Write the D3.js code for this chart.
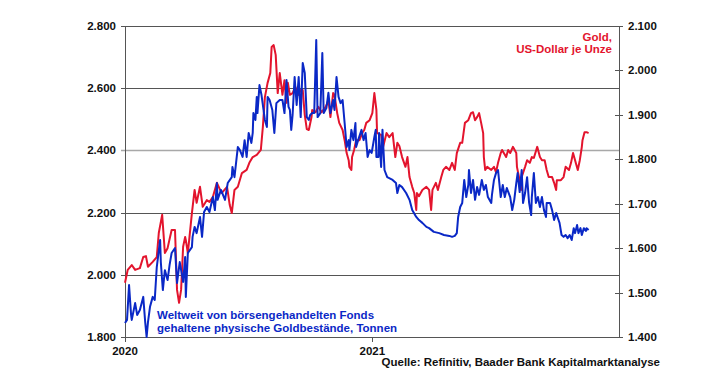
<!DOCTYPE html>
<html>
<head>
<meta charset="utf-8">
<script src="https://cdn.jsdelivr.net/npm/d3@7"></script>
<style>
  body { margin: 0; background: #fff; }
  svg text { font-family: "Liberation Sans", Arial, sans-serif; font-weight: bold; }
</style>
</head>
<body>
<div class="chart"></div>
<script>
// Goldpreis, US-Dollar je Unze (rechte Achse)
var goldDates = ["2020-01-01","2020-01-05","2020-01-11","2020-01-16","2020-01-23","2020-01-28","2020-02-01","2020-02-04","2020-02-11","2020-02-17","2020-02-20","2020-02-25","2020-02-29","2020-03-04","2020-03-10","2020-03-15","2020-03-18","2020-03-21","2020-03-24","2020-03-27","2020-03-30","2020-03-31","2020-04-03","2020-04-09","2020-04-13","2020-04-16","2020-04-21","2020-04-25","2020-05-01","2020-05-05","2020-05-10","2020-05-16","2020-05-23","2020-05-31","2020-06-04","2020-06-07","2020-06-11","2020-06-16","2020-06-22","2020-06-29","2020-07-03","2020-07-08","2020-07-14","2020-07-20","2020-07-23","2020-07-26","2020-07-30","2020-08-03","2020-08-05","2020-08-08","2020-08-11","2020-08-14","2020-08-17","2020-08-21","2020-08-24","2020-08-27","2020-08-29","2020-09-01","2020-09-05","2020-09-09","2020-09-14","2020-09-17","2020-09-20","2020-09-23","2020-09-26","2020-09-29","2020-10-03","2020-10-04","2020-10-09","2020-10-13","2020-10-18","2020-10-24","2020-10-28","2020-10-31","2020-11-04","2020-11-06","2020-11-10","2020-11-13","2020-11-18","2020-11-21","2020-11-24","2020-11-27","2020-11-28","2020-12-01","2020-12-02","2020-12-05","2020-12-08","2020-12-13","2020-12-17","2020-12-20","2020-12-23","2020-12-28",
  "2021-01-01","2021-01-04","2021-01-07","2021-01-08","2021-01-14","2021-01-17","2021-01-22","2021-01-26","2021-01-31","2021-02-04","2021-02-07","2021-02-10","2021-02-14","2021-02-19","2021-02-22","2021-02-25","2021-03-01","2021-03-04","2021-03-07","2021-03-08","2021-03-11","2021-03-16","2021-03-22","2021-03-26","2021-03-29","2021-03-31","2021-04-05","2021-04-08","2021-04-13","2021-04-16","2021-04-20","2021-04-25","2021-04-29","2021-05-03","2021-05-06","2021-05-11","2021-05-14","2021-05-18","2021-05-23","2021-05-27","2021-05-30","2021-06-02","2021-06-05","2021-06-08","2021-06-11","2021-06-14","2021-06-15","2021-06-17","2021-06-20","2021-06-26","2021-06-30","2021-07-03","2021-07-06","2021-07-10","2021-07-12","2021-07-18","2021-07-21","2021-07-24","2021-07-28","2021-08-02","2021-08-03","2021-08-06","2021-08-09","2021-08-10","2021-08-15","2021-08-18","2021-08-22","2021-08-25","2021-08-28","2021-09-02","2021-09-06","2021-09-09","2021-09-13","2021-09-16","2021-09-19","2021-09-24","2021-09-27","2021-09-30","2021-10-01","2021-10-07","2021-10-11","2021-10-14","2021-10-19","2021-10-22","2021-10-25","2021-10-29","2021-11-01","2021-11-04","2021-11-07","2021-11-08","2021-11-11","2021-11-14","2021-11-17"];
var goldPrice = [1522,1551,1562,1551,1555,1580,1582,1558,1569,1580,1634,1675,1589,1600,1641,1641,1506,1477,1506,1603,1625,1618,1589,1679,1731,1702,1738,1693,1708,1704,1715,1747,1724,1738,1697,1679,1731,1738,1769,1776,1792,1805,1810,1821,1873,1940,1972,1994,2053,2057,2035,1949,1994,1945,1978,1927,1972,1945,1949,1963,1945,1956,1956,1900,1868,1866,1895,1911,1906,1918,1906,1918,1933,1895,1949,1945,1904,1882,1866,1843,1814,1798,1783,1776,1805,1821,1843,1843,1859,1866,1882,1888,
  1904,1949,1911,1859,1855,1828,1859,1850,1859,1805,1837,1830,1805,1783,1805,1760,1738,1724,1686,1724,1717,1731,1738,1731,1686,1731,1747,1731,1760,1776,1783,1776,1792,1776,1814,1837,1837,1882,1888,1904,1906,1888,1895,1904,1882,1859,1805,1776,1783,1776,1783,1771,1792,1814,1821,1805,1821,1814,1828,1814,1783,1760,1731,1760,1783,1798,1792,1805,1803,1828,1805,1798,1798,1776,1760,1760,1747,1731,1753,1753,1760,1783,1776,1792,1814,1792,1776,1798,1828,1843,1861,1861,1859];

// ETF-Goldbestaende weltweit, Tonnen (linke Achse)
var etfDates = ["2020-01-01","2020-01-04","2020-01-07","2020-01-10","2020-01-11","2020-01-16","2020-01-19","2020-01-23","2020-01-28","2020-01-31","2020-02-02","2020-02-04","2020-02-07","2020-02-11","2020-02-14","2020-02-17","2020-02-22","2020-02-23","2020-02-26","2020-02-29","2020-03-04","2020-03-07","2020-03-10","2020-03-15","2020-03-18","2020-03-22","2020-03-27","2020-03-30","2020-03-31","2020-04-03","2020-04-09","2020-04-10","2020-04-13","2020-04-16","2020-04-21","2020-04-24","2020-04-27","2020-05-01","2020-05-05","2020-05-10","2020-05-13","2020-05-16","2020-05-17","2020-05-22","2020-05-28","2020-06-01","2020-06-07","2020-06-08","2020-06-11","2020-06-16","2020-06-19","2020-06-23","2020-06-26","2020-06-29","2020-07-02","2020-07-06","2020-07-08","2020-07-09","2020-07-12","2020-07-14","2020-07-15","2020-07-18","2020-07-21","2020-07-24","2020-07-26","2020-07-29","2020-07-30","2020-08-02","2020-08-06","2020-08-09","2020-08-12","2020-08-17","2020-08-21","2020-08-24","2020-08-27","2020-08-30","2020-09-01","2020-09-03","2020-09-05","2020-09-08","2020-09-11","2020-09-14","2020-09-17","2020-09-20","2020-09-23","2020-09-26","2020-09-29","2020-10-01","2020-10-04","2020-10-07","2020-10-10","2020-10-12","2020-10-16","2020-10-19","2020-10-21","2020-10-25","2020-10-28","2020-10-31","2020-11-04","2020-11-06","2020-11-09","2020-11-12","2020-11-15","2020-11-18","2020-11-21","2020-11-24","2020-11-27","2020-11-28","2020-12-01","2020-12-04","2020-12-07","2020-12-08","2020-12-11","2020-12-16","2020-12-19","2020-12-22","2020-12-25","2020-12-28","2020-12-31",
  "2021-01-04","2021-01-06","2021-01-07","2021-01-10","2021-01-11","2021-01-14","2021-01-16","2021-01-19","2021-01-23","2021-01-31","2021-02-05","2021-02-07","2021-02-10","2021-02-14","2021-02-20","2021-02-25","2021-03-01","2021-03-07","2021-03-11","2021-03-16","2021-03-22","2021-03-26","2021-04-02","2021-04-10","2021-04-17","2021-04-25","2021-04-29","2021-05-03","2021-05-06","2021-05-08","2021-05-11","2021-05-14","2021-05-17","2021-05-20","2021-05-23","2021-05-24","2021-05-27","2021-05-30","2021-06-02","2021-06-05","2021-06-08","2021-06-12","2021-06-15","2021-06-18","2021-06-21","2021-06-26","2021-06-27","2021-06-30","2021-07-03","2021-07-06","2021-07-10","2021-07-13","2021-07-16","2021-07-19","2021-07-24","2021-07-27","2021-07-30","2021-08-02","2021-08-04","2021-08-07","2021-08-10","2021-08-12","2021-08-15","2021-08-18","2021-08-21","2021-08-24","2021-08-25","2021-08-28","2021-08-31","2021-09-03","2021-09-06","2021-09-09","2021-09-12","2021-09-15","2021-09-16","2021-09-21","2021-09-24","2021-09-27","2021-09-30","2021-10-02","2021-10-05","2021-10-08","2021-10-11","2021-10-14","2021-10-17","2021-10-20","2021-10-23","2021-10-26","2021-10-28","2021-10-31","2021-11-02","2021-11-05","2021-11-07","2021-11-10","2021-11-13","2021-11-14","2021-11-17"];
var etfTonnes = [1845,1855,1967,1871,1855,1909,1871,1887,1929,1845,1800,1848,1897,1929,1919,2025,2112,2041,1951,2015,1983,2032,2070,2086,1974,2041,1977,2057,1929,2070,2089,2122,2154,2134,2186,2122,2202,2218,2202,2250,2208,2295,2241,2273,2241,2295,2314,2347,2314,2411,2401,2379,2433,2379,2456,2424,2456,2520,2498,2572,2520,2610,2578,2530,2498,2475,2572,2562,2530,2456,2552,2562,2562,2520,2626,2540,2530,2466,2514,2636,2546,2636,2507,2681,2649,2507,2498,2514,2520,2520,2755,2507,2520,2713,2520,2536,2585,2520,2562,2530,2636,2572,2552,2562,2488,2411,2433,2401,2466,2433,2488,2411,2433,2466,2433,2456,2379,2401,2392,
  2443,2466,2379,2379,2456,2347,2466,2337,2314,2305,2295,2263,2289,2282,2263,2241,2208,2186,2176,2167,2154,2150,2138,2134,2128,2125,2122,2125,2134,2186,2218,2231,2305,2250,2289,2337,2263,2305,2241,2282,2257,2305,2273,2289,2250,2231,2257,2305,2327,2337,2250,2289,2250,2279,2250,2208,2241,2295,2327,2266,2337,2231,2263,2314,2231,2192,2250,2327,2231,2250,2218,2250,2208,2186,2231,2231,2208,2176,2199,2186,2167,2128,2122,2128,2118,2128,2112,2150,2134,2160,2134,2150,2128,2150,2141,2150,2144];

var leftTicks = [1800, 2000, 2200, 2400, 2600, 2800];
var rightTicks = [1400, 1500, 1600, 1700, 1800, 1900, 2000, 2100];
var yearTicks = ["2020-01-01", "2021-01-01"];

var width = 706;
var height = 385;
var red = "#e3142d";
var blue = "#0a28c6";

var parse = d3.timeParse("%Y-%m-%d");
var de = d3.formatLocale({decimal: ",", thousands: ".", grouping: [3], currency: ["", " €"]});
var fmt = de.format(",.0f");

var x = d3.scaleTime()
    .domain([parse("2020-01-01"), parse("2022-01-01")])
    .range([125, 619]);
var yLeft = d3.scaleLinear().domain([1800, 2800]).range([337, 26]);
var yRight = d3.scaleLinear().domain([1400, 2100]).range([337, 26]);

var gold = d3.zip(goldDates, goldPrice).map(function(d){ return {date: parse(d[0]), value: d[1]}; });
var etf = d3.zip(etfDates, etfTonnes).map(function(d){ return {date: parse(d[0]), value: d[1]}; });

var svg = d3.select('.chart')
    .append('svg')
    .attr('width', width)
    .attr('height', height);

// Gitternetz (linke Achse)
svg.append('g')
    .selectAll('line')
    .data(leftTicks.slice(1))
    .enter()
        .append('line')
        .attr('x1', 121)
        .attr('x2', x.range()[1])
        .attr('y1', function(d){ return Math.round(yLeft(d)) + 0.5; })
        .attr('y2', function(d){ return Math.round(yLeft(d)) + 0.5; })
        .attr('stroke', function(d){ return d === 2400 ? '#a8a8a8' : '#555'; })
        .attr('stroke-width', function(d){ return d === 2400 ? 1.6 : 1; });

svg.append('g')
    .selectAll('text')
    .data(leftTicks)
    .enter()
        .append('text')
        .attr('x', 116)
        .attr('y', function(d){ return yLeft(d) + 4; })
        .attr('text-anchor', 'end')
        .attr('font-size', 11.5)
        .attr('fill', '#111')
        .text(function(d){ return fmt(d); });

// Achsenlinien
svg.append('line')
    .attr('x1', 125.5).attr('x2', 125.5).attr('y1', 26).attr('y2', 337.5)
    .attr('stroke', '#555');
svg.append('line')
    .attr('x1', 619.5).attr('x2', 619.5).attr('y1', 26).attr('y2', 337.5)
    .attr('stroke', '#555');
svg.append('line')
    .attr('x1', 121).attr('x2', 620).attr('y1', 337.5).attr('y2', 337.5)
    .attr('stroke', '#555');

// rechte Achse
svg.append('g')
    .selectAll('line')
    .data(rightTicks)
    .enter()
        .append('line')
        .attr('x1', 615)
        .attr('x2', 623)
        .attr('y1', function(d){ return Math.round(yRight(d)) + 0.5; })
        .attr('y2', function(d){ return Math.round(yRight(d)) + 0.5; })
        .attr('stroke', '#555');

svg.append('g')
    .selectAll('text')
    .data(rightTicks)
    .enter()
        .append('text')
        .attr('x', 628)
        .attr('y', function(d){ return yRight(d) + 4; })
        .attr('font-size', 11.5)
        .attr('fill', '#111')
        .text(function(d){ return fmt(d); });

// Jahre
svg.append('g')
    .selectAll('line')
    .data(yearTicks)
    .enter()
        .append('line')
        .attr('x1', function(d){ return Math.round(x(parse(d))) + 0.5; })
        .attr('x2', function(d){ return Math.round(x(parse(d))) + 0.5; })
        .attr('y1', 337)
        .attr('y2', 342)
        .attr('stroke', '#555');

svg.append('g')
    .selectAll('text')
    .data(yearTicks)
    .enter()
        .append('text')
        .attr('x', function(d){ return x(parse(d)); })
        .attr('y', 355)
        .attr('text-anchor', 'middle')
        .attr('font-size', 11.5)
        .attr('fill', '#111')
        .text(function(d){ return d.slice(0, 4); });

// Linien
var goldLine = d3.line()
    .x(function(d){ return x(d.date); })
    .y(function(d){ return yRight(d.value); });
var etfLine = d3.line()
    .x(function(d){ return x(d.date); })
    .y(function(d){ return yLeft(d.value); });

svg.append('path')
    .datum(gold)
    .attr('d', goldLine)
    .attr('fill', 'none')
    .attr('stroke', red)
    .attr('stroke-width', 2)
    .attr('stroke-linejoin', 'round');

svg.append('path')
    .datum(etf)
    .attr('d', etfLine)
    .attr('fill', 'none')
    .attr('stroke', blue)
    .attr('stroke-width', 2)
    .attr('stroke-linejoin', 'round');

// Beschriftungen
var goldLabel = svg.append('text')
    .attr('text-anchor', 'end')
    .attr('font-size', 11.5)
    .attr('fill', red);
goldLabel.append('tspan').attr('x', 612).attr('y', 41).text('Gold,');
goldLabel.append('tspan').attr('x', 612).attr('y', 53).text('US-Dollar je Unze');

var etfLabel = svg.append('text')
    .attr('font-size', 11.5)
    .attr('fill', blue);
etfLabel.append('tspan').attr('x', 157).attr('y', 319).text('Weltweit von börsengehandelten Fonds');
etfLabel.append('tspan').attr('x', 157).attr('y', 332).text('gehaltene physische Goldbestände, Tonnen');

svg.append('text')
    .attr('x', 660)
    .attr('y', 366)
    .attr('text-anchor', 'end')
    .attr('font-size', 11.5)
    .attr('fill', '#111')
    .text('Quelle: Refinitiv, Baader Bank Kapitalmarktanalyse');
</script>
</body>
</html>
